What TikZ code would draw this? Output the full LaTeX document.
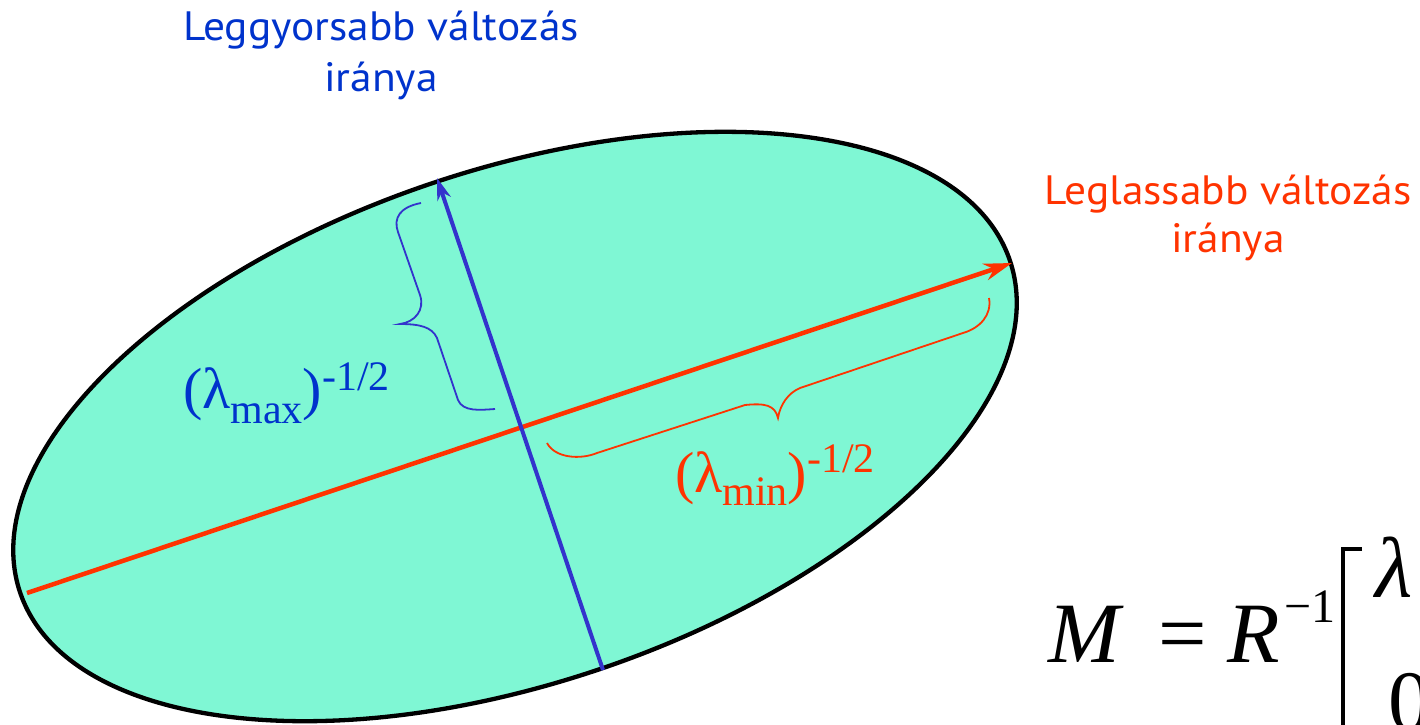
\documentclass[tikz,border=0pt]{standalone}
\usepackage{fontspec}
\setmainfont{Liberation Serif}
\newfontfamily\labfont[FakeStretch=1.06]{PT Sans}
\usetikzlibrary{arrows.meta}
\definecolor{fillc}{RGB}{127,247,212}
\definecolor{axblue}{RGB}{51,51,204}
\definecolor{txtblue}{RGB}{0,51,204}
\definecolor{axred}{RGB}{255,51,0}
\tikzset{
  dirlabel/.style={anchor=base, inner sep=0pt, font=\labfont\fontsize{41}{48}\selectfont},
  lamlabel/.style={anchor=base west, inner sep=0pt, font=\fontsize{58}{58}\selectfont},
  bracestyle/.style={line width=1.8pt},
  axisline/.style={line width=4.5pt},
}
\newcommand{\sml}[1]{{\fontsize{42}{42}\selectfont #1}}
\begin{document}
\begin{tikzpicture}[x=1pt,y=-1pt]
\useasboundingbox (0,0) rectangle (1420,724);
\fill[white] (0,0) rectangle (1420,724);

% ellipse
\filldraw[fill=fillc, draw=black, line width=4.3pt, rotate around={18.5:(515,426.5)}]
  (515,426.5) ellipse (522 and 257);

% axes
\coordinate (rs) at (27,593);
\coordinate (re) at (1012,263);
\coordinate (bs) at (603,670);
\coordinate (be) at (437,178);
\draw[axisline, axred, -{Stealth[length=28pt,width=17pt,inset=9pt]}] (rs) -- (re);
\draw[axisline, line width=4pt, axblue, -{Stealth[length=22pt,width=14pt,inset=7pt]}] (bs) -- (be);

% braces
\draw[bracestyle, axblue] (421,203) .. controls (400,207) and (393,218) .. (398,232)
  -- (420,295) .. controls (425,310) and (415,322) .. (400,324)
  .. controls (420,324) and (432,327) .. (437,338)
  -- (458,400) .. controls (463,412) and (480,410) .. (495,409);
\draw[bracestyle, axred] (989,298) .. controls (992,315) and (980,328) .. (963,333)
  -- (800,388) .. controls (788,393) and (780,405) .. (778,418)
  .. controls (775,405) and (765,403) .. (745,405)
  -- (597,453) .. controls (580,460) and (555,458) .. (547,443);

% direction labels
\node[dirlabel, text=txtblue] (fast1) at (381,40) {Leggyorsabb változás};
\node[dirlabel, text=txtblue] (fast2) at (381,91) {iránya};
\node[dirlabel, text=axred] (slow1) at (1228,204) {Leglassabb változás};
\node[dirlabel, text=axred] (slow2) at (1228,252) {iránya};

% lambda labels
\node[lamlabel, text=txtblue] (lmax) at (183,408)
  {(λ\raisebox{-15pt}{\sml{max}})\raisebox{18pt}{\sml{-1/2}}};
\node[lamlabel, text=axred] (lmin) at (675,492)
  {(λ\raisebox{-13pt}{\sml{min}})\raisebox{20pt}{\sml{-1/2}}};

% formula
\node[anchor=base west, inner sep=0pt, font=\fontsize{86}{86}\selectfont] (formula) at (1048,662)
  {\textit{M}\hspace{34.5pt}=\hspace{21pt}\textit{R}\hspace{4pt}\raisebox{40pt}{\fontsize{48}{48}\selectfont −1}};
\draw[line width=4.5pt] (1362,549) -- (1343,549) -- (1343,730);
\node[anchor=base west, inner sep=0pt, font=\fontsize{86}{86}\selectfont\itshape] (lam) at (1375,597) {λ};
\node[anchor=base west, inner sep=0pt, font=\fontsize{86}{86}\selectfont] (zero) at (1388,730) {0};
\end{tikzpicture}
\end{document}
